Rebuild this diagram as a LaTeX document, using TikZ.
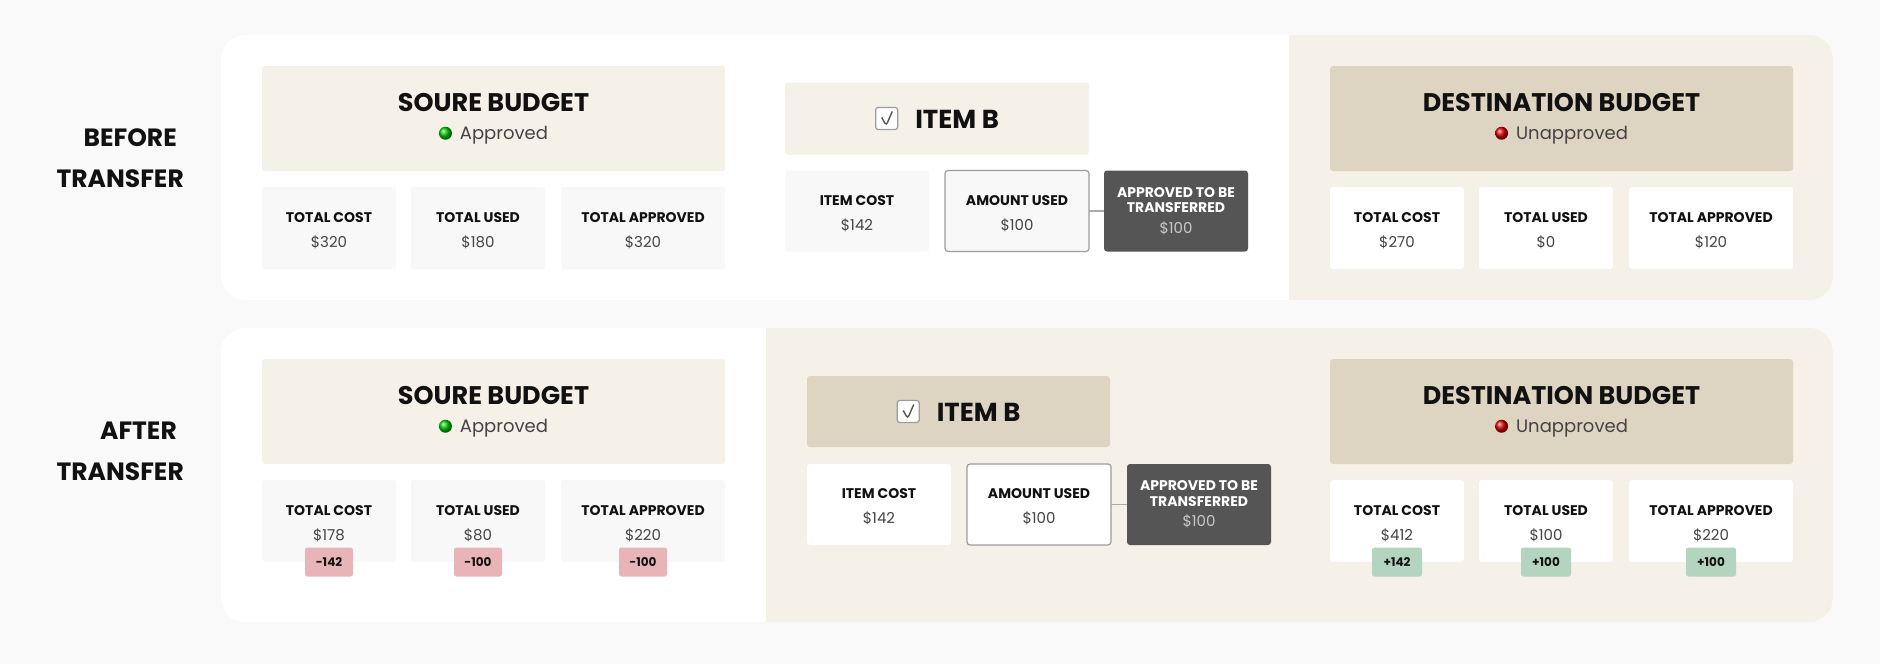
\documentclass[tikz,border=0pt]{standalone}
\usepackage{fontspec}
\setmainfont{Poppins}
\usepackage{xcolor}
\definecolor{pagebg}{HTML}{F9F9F9}
\definecolor{beige}{HTML}{F5F0E8}
\definecolor{sand}{HTML}{DED4C2}
\definecolor{cardgray}{HTML}{F8F8F8}
\definecolor{darkbox}{HTML}{555555}
\definecolor{bordergray}{HTML}{9C9C9C}
\definecolor{linegray}{HTML}{AAAAAA}
\definecolor{pinkbadge}{HTML}{E8B4B8}
\definecolor{greenbadge}{HTML}{B3D5C0}
\definecolor{valgray}{HTML}{444444}
\definecolor{lightval}{HTML}{C8C8C8}
\definecolor{ink}{HTML}{111111}
\usepackage{tikz}
\usetikzlibrary{positioning,calc}
\pgfdeclarelayer{background}
\pgfsetlayers{background,main}
\newcommand{\titlefont}{\fontsize{25.5}{28}\selectfont\bfseries}
\newcommand{\statusfont}{\fontsize{18}{28}\selectfont\color{valgray}}
\newcommand{\itemfont}{\fontsize{26}{26}\selectfont\bfseries}
\newcommand{\valuefont}{\fontsize{15}{25}\selectfont\mdseries\color{valgray}}
\newcommand{\statusdot}[1]{\tikz[baseline=-6pt]\shade[ball color=#1] (0pt,0pt) circle (6.5pt);}
\newcommand{\tickbox}{\tikz[baseline=1pt]{
  \draw[draw=bordergray, fill=white, line width=1.2pt, rounded corners=2.5pt] (0pt,0pt) rectangle (22pt,22pt);
  \draw[draw=darkbox, line width=1.4pt] (6pt,12pt) -- (10.5pt,4pt) -- (16.5pt,18pt);}}
\newcommand{\mypanel}[5]{
  \begin{pgfonlayer}{background}
    \path (#1.north west) ++(-41,-31) coordinate (#5a);
    \path (#2.south east) ++(40,#4) coordinate (#5b);
    \begin{scope}
      \clip[rounded corners=24pt] (#5a) rectangle (#5b);
      \fill[white] (#5a) rectangle (#3 |- #5b);
      \fill[beige] (#3 |- #5a) rectangle (#5b);
    \end{scope}
  \end{pgfonlayer}}
\newcommand{\headnode}[3]{
\node (#1) [#2]{#3};}
\newcommand{\cardnode}[4]{
\node (#1) [#2]{\rule{0pt}{15pt}\textbf{#3}\\{\valuefont #4}};}
\newcommand{\badgenode}[4]{
\node (#1) [#2] at (#3.south){#4};}
\tikzstyle{beigehead}=[rectangle, rounded corners=3pt, fill=beige, text=ink, align=center,
        inner sep=0pt, outer sep=0pt, minimum width=463pt, minimum height=105pt,
        font=\fontsize{25.5}{28}\selectfont]
\tikzstyle{sandhead}=[beigehead, fill=sand]
\tikzstyle{graycard}=[rectangle, rounded corners=3pt, fill=cardgray, text=ink, align=center,
        inner sep=0pt, outer sep=0pt, minimum width=134pt, minimum height=82pt,
        font=\fontsize{14}{25}\selectfont]
\tikzstyle{whitecard}=[graycard, fill=white]
\tikzstyle{wide}=[minimum width=164pt]
\tikzstyle{itemcard}=[minimum width=144pt, minimum height=81pt]
\tikzstyle{usedline}=[draw=bordergray, line width=1.2pt]
\tikzstyle{darkcard}=[graycard, fill=darkbox, text=white, font=\fontsize{14}{15.5}\selectfont\bfseries]
\tikzstyle{minusbadge}=[rectangle, rounded corners=2.5pt, fill=pinkbadge, text=ink, inner sep=0pt,
        minimum width=48pt, minimum height=29pt, font=\fontsize{12}{12}\selectfont\bfseries]
\tikzstyle{plusbadge}=[minusbadge, fill=greenbadge, minimum width=50pt]
\tikzstyle{sidelabel}=[align=right, text=ink, inner sep=0pt, font=\fontsize{25}{41}\selectfont\bfseries]
\tikzstyle{link}=[draw=linegray, line width=1.2pt]

\begin{document}
\begin{tikzpicture}[x=1pt, y=-1pt]
\useasboundingbox (0,0) rectangle (1880,664);
\begin{pgfonlayer}{background}
  \fill[pagebg] (0,0) rectangle (1880,664);
\end{pgfonlayer}

% before transfer
\node (BeforeLbl) [sidelabel, anchor=east] at (184,158.5) {BEFORE\kern7pt\\TRANSFER};
\headnode{SrcHead}{beigehead, at={(493.5,118.5)}}{{\titlefont SOURE BUDGET}\\{\statusfont\statusdot{green!80!black}\kern8pt Approved}}
\cardnode{SrcCost}{graycard, below=16pt of SrcHead.south west, anchor=north west}{TOTAL COST}{\$320}
\cardnode{SrcUsed}{graycard, right=15pt of SrcCost}{TOTAL USED}{\$180}
\cardnode{SrcApproved}{graycard, wide, right=16pt of SrcUsed}{TOTAL APPROVED}{\$320}

\headnode{ItemHead}{beigehead, minimum width=304pt, minimum height=72pt, right=60pt of SrcHead}{\itemfont\tickbox\kern17pt ITEM B}
\cardnode{ItemCost}{graycard, itemcard, below=16pt of ItemHead.south west, anchor=north west}{ITEM COST}{\$142}
\cardnode{ItemUsed}{graycard, itemcard, usedline, right=16pt of ItemCost}{AMOUNT USED}{\$100}
\node (ItemApr) [darkcard, itemcard, right=15pt of ItemUsed]{APPROVED TO BE\\TRANSFERRED\\[5pt]{\valuefont\color{lightval}\$100}};

\headnode{DstHead}{sandhead, at={(1561.5,118.5)}}{{\titlefont DESTINATION BUDGET}\\{\statusfont\statusdot{red!85!black}\kern8pt Unapproved}}
\cardnode{DstCost}{whitecard, below=16pt of DstHead.south west, anchor=north west}{TOTAL COST}{\$270}
\cardnode{DstUsed}{whitecard, right=15pt of DstCost}{TOTAL USED}{\$0}
\cardnode{DstApproved}{whitecard, wide, right=16pt of DstUsed}{TOTAL APPROVED}{\$120}

% after transfer
\node (AfterLbl) [sidelabel, anchor=east] at (184,451.5) {AFTER\kern7pt\\TRANSFER};
\headnode{SrcHead2}{beigehead, at={(493.5,411.5)}}{{\titlefont SOURE BUDGET}\\{\statusfont\statusdot{green!80!black}\kern8pt Approved}}
\cardnode{SrcCost2}{graycard, below=16pt of SrcHead2.south west, anchor=north west}{TOTAL COST}{\$178}
\cardnode{SrcUsed2}{graycard, right=15pt of SrcCost2}{TOTAL USED}{\$80}
\cardnode{SrcApproved2}{graycard, wide, right=16pt of SrcUsed2}{TOTAL APPROVED}{\$220}

\headnode{ItemHead2}{sandhead, minimum width=303pt, minimum height=71pt, at={(958.5,411.5)}}{\itemfont\tickbox\kern17pt ITEM B}
\cardnode{ItemCost2}{whitecard, itemcard, below=17pt of ItemHead2.south west, anchor=north west}{ITEM COST}{\$142}
\cardnode{ItemUsed2}{whitecard, itemcard, usedline, right=16pt of ItemCost2}{AMOUNT USED}{\$100}
\node (ItemApr2) [darkcard, itemcard, right=16pt of ItemUsed2]{APPROVED TO BE\\TRANSFERRED\\[5pt]{\valuefont\color{lightval}\$100}};

\headnode{DstHead2}{sandhead, at={(1561.5,411.5)}}{{\titlefont DESTINATION BUDGET}\\{\statusfont\statusdot{red!85!black}\kern8pt Unapproved}}
\cardnode{DstCost2}{whitecard, below=16pt of DstHead2.south west, anchor=north west}{TOTAL COST}{\$412}
\cardnode{DstUsed2}{whitecard, right=15pt of DstCost2}{TOTAL USED}{\$100}
\cardnode{DstApproved2}{whitecard, wide, right=16pt of DstUsed2}{TOTAL APPROVED}{\$220}

% change badges
\badgenode{SrcCostDelta}{minusbadge}{SrcCost2}{-142}
\badgenode{SrcUsedDelta}{minusbadge}{SrcUsed2}{-100}
\badgenode{SrcApprovedDelta}{minusbadge}{SrcApproved2}{-100}
\badgenode{DstCostDelta}{plusbadge}{DstCost2}{+142}
\badgenode{DstUsedDelta}{plusbadge}{DstUsed2}{+100}
\badgenode{DstApprovedDelta}{plusbadge}{DstApproved2}{+100}

% links
\draw[link] (ItemUsed.east) -- (ItemApr.west);
\draw[link] (ItemUsed2.east) -- (ItemApr2.west);

% panels
\coordinate (cut1) at ($(ItemApr.east)!0.5!(DstHead.west)$);
\coordinate (cut2) at ($(SrcHead2.east)!0.5!(ItemHead2.west)$);
\mypanel{SrcHead}{DstApproved}{cut1}{31}{top}
\mypanel{SrcHead2}{DstApproved2}{cut2}{60}{bot}

\end{tikzpicture}
\end{document}
